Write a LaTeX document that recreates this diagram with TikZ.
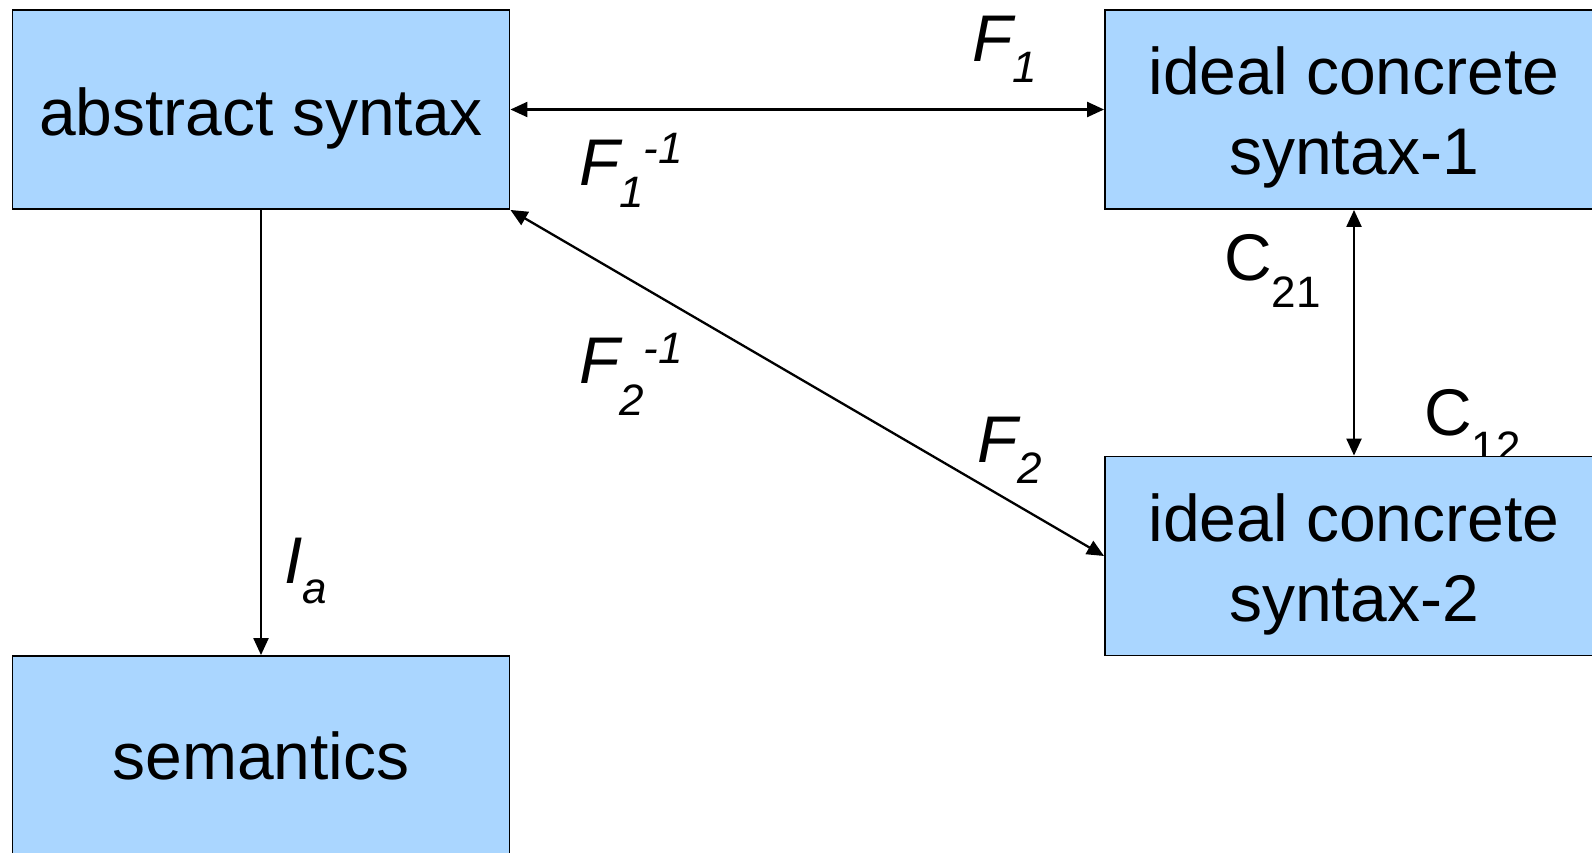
\documentclass[tikz,border=0pt]{standalone}
\usepackage{fontspec}
\setmainfont{Liberation Sans}
\usetikzlibrary{arrows.meta}
\definecolor{boxblue}{RGB}{170,214,255}
\newcommand{\bigf}{\fontsize{66}{80}\selectfont}
\newcommand{\smf}{\fontsize{44}{44}\selectfont}
\newcommand{\lsub}[2]{\raisebox{-#1pt}{\smf #2}}
\newcommand{\lsup}[2]{\raisebox{#1pt}{\smf #2}}
\begin{document}
\begin{tikzpicture}[x=1pt,y=-1pt,
  box/.style={draw=black,line width=1.9pt,fill=boxblue,minimum width=497pt,minimum height=199pt,inner sep=0pt,align=center,font=\bigf},
  lbl/.style={anchor=base west,inner sep=0pt,font=\bigf},
  conn/.style={line width=2.3pt,{Triangle[length=17pt,width=15pt]}-{Triangle[length=17pt,width=15pt]}},
  oneway/.style={line width=2.3pt,-{Triangle[length=17pt,width=15pt]}}]
\useasboundingbox (0,0) rectangle (1592,852);
% label partly hidden by the box below
\node[lbl] (c12) at (1424,435) {C\lsub{27}{12}};
\node[box] (abs) at (261,109.5) {\rule{0pt}{65pt}abstract syntax};
\node[box,minimum width=498pt] (ic1) at (1354,109.5) {\rule{0pt}{64pt}ideal concrete\\syntax-1};
\node[box,minimum width=498pt] (ic2) at (1354,556) {\rule{0pt}{64pt}ideal concrete\\syntax-2};
\node[box] (sem) at (261,755.5) {semantics};
\draw[conn] (abs.east) -- (ic1.west);
\draw[conn] (abs.south east) -- (ic2.west);
\draw[conn] (ic1.south) -- (ic2.north);
\draw[oneway] (abs.south) -- (sem.north);
\node[lbl] (f1) at (972,61) {\itshape F\lsub{21}{1}};
\node[lbl] (f1i) at (579,185) {\itshape F\lsub{22}{1}\lsup{22}{-1}};
\node[lbl] (f2i) at (579,383) {\itshape F\lsub{32}{2}\lsup{20}{-1}};
\node[lbl] (f2) at (977,462) {\itshape F\lsub{21}{2}};
\node[lbl] (ia) at (284,583) {\itshape I\lsub{20}{a}};
\node[lbl] (c21) at (1224,280) {C\lsub{27}{21}};
\end{tikzpicture}
\end{document}
